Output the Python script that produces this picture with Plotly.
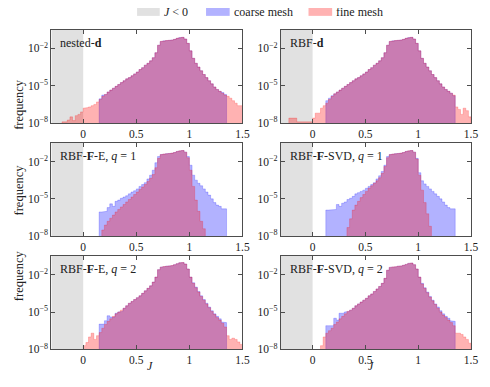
import plotly.graph_objects as go
from plotly.subplots import make_subplots

W, H = 490, 387
OFF = 8  # the page body adds an 8px margin all round; the figure fills what is left
BIN_W = 0.025  # histogram bin width in J

# log10(frequency) per bin, each series starts at the given left bin edge
nested_coarse_start = 0.15
nested_coarse = [-6.05, -5.75, -5.7, -5.5, -5.35, -5.2, -5.05, -4.9, -4.75, -4.6,
                 -4.45, -4.35, -4.2, -4.05, -3.9, -3.7, -3.55, -3.35, -3.2, -3.0,
                 -2.75, -2.35, -1.75, -1.45, -1.4, -1.38, -1.36, -1.33, -1.28, -1.2,
                 -1.14, -1.12, -1.25, -1.6, -2.2, -2.8, -3.2, -3.5, -3.8, -4.1,
                 -4.35, -4.6, -4.85, -5.1, -5.3, -5.45, -5.55, -5.7]
nested_fine_start = -0.2
nested_fine = [-7.9, -7.9, -7.75, -7.5, -7.8, -7.4, -7.3, -7.1, -6.8, -6.75, -6.7, -6.6, -6.5, -6.3,
               -6.1, -5.85, -5.7, -5.5, -5.35, -5.2, -5.05, -4.9, -4.75, -4.6,
               -4.45, -4.35, -4.2, -4.05, -3.9, -3.7, -3.55, -3.35, -3.2, -3.0,
               -2.75, -2.35, -1.75, -1.45, -1.4, -1.38, -1.36, -1.33, -1.28, -1.2,
               -1.14, -1.12, -1.25, -1.6, -2.2, -2.8, -3.2, -3.5, -3.8, -4.1,
               -4.35, -4.6, -4.85, -5.1, -5.3, -5.45, -5.6, -5.75,
               -5.85, -6.0, -6.2, -6.4, -6.6, -6.6]

rbfd_coarse_start = 0.125
rbfd_coarse = [-6.2, -6.0, -5.8, -5.65, -5.5, -5.35, -5.2, -5.05,
               -4.9, -4.75, -4.6, -4.45, -4.35, -4.2, -4.05, -3.9, -3.7, -3.55,
               -3.35, -3.2, -3.0, -2.75, -2.35, -1.75, -1.45, -1.4, -1.38, -1.36,
               -1.33, -1.28, -1.2, -1.14, -1.12, -1.25, -1.6, -2.2, -2.8, -3.2,
               -3.5, -3.8, -4.1, -4.35, -4.6, -4.85, -5.1, -5.3, -5.45, -5.6, -5.8]
rbfd_fine_start = -0.225
rbfd_fine = [-7.6, -7.6, -7.6, -7.9, -7.9, -7.9, -7.9, -7.9, -7.9, -7.6, -7.2, -7.2, -6.8, -6.6,
             -6.4, -6.1, -5.85, -5.65, -5.5, -5.35, -5.2, -5.05,
             -4.9, -4.75, -4.6, -4.45, -4.35, -4.2, -4.05, -3.9, -3.7, -3.55,
             -3.35, -3.2, -3.0, -2.75, -2.35, -1.75, -1.45, -1.4, -1.38, -1.36,
             -1.33, -1.28, -1.2, -1.14, -1.12, -1.25, -1.6, -2.2, -2.8, -3.2,
             -3.5, -3.8, -4.1, -4.35, -4.6, -4.85, -5.1, -5.3, -5.45, -5.6, -5.75,
             -6.7, -6.9, -7.3, -6.8, -7.0, -7.5]

fe1_coarse_start = 0.15
fe1_coarse = [-6.05, -6.05, -6.0, -5.7, -5.4, -5.6, -5.2, -5.1, -4.95, -4.85,
              -4.75, -4.6, -4.45, -4.35, -4.2, -4.0, -3.85, -3.7, -3.4, -3.1,
              -2.7, -2.1, -1.6, -1.45, -1.4, -1.38, -1.36, -1.33, -1.28, -1.2,
              -1.14, -1.12, -1.25, -1.6, -2.3, -3.1, -3.5, -3.75, -3.95, -4.2,
              -4.45, -4.7, -5.0, -5.3, -5.5, -5.6, -5.8, -5.8]
fe1_fine_start = 0.175
fe1_fine = [-7.5, -7.1, -6.8, -6.55, -6.3, -6.05, -5.85, -5.65, -5.45, -5.25,
            -5.05, -4.85, -4.65, -4.45, -4.25, -4.05, -3.85, -3.6, -3.35, -3.05,
            -2.5, -1.75, -1.45, -1.4, -1.38, -1.36, -1.33, -1.28, -1.2, -1.14,
            -1.12, -1.25, -1.7, -2.7, -4.0, -5.1, -6.0, -6.8, -7.4]

fsvd1_coarse_start = 0.125
fsvd1_coarse = [-5.9, -5.9, -5.9, -5.85, -5.45, -5.6, -5.35, -5.25, -5.05, -4.95,
                -4.8, -4.6, -4.5, -4.4, -4.3, -4.15, -4.0, -3.85, -3.7, -3.4,
                -3.15, -2.8, -2.3, -1.6, -1.45, -1.4, -1.38, -1.36, -1.33, -1.28,
                -1.2, -1.14, -1.12, -1.25, -1.75, -2.9, -3.55, -3.8, -4.0, -4.2,
                -4.4, -4.6, -4.8, -5.0, -5.25, -5.5, -5.7, -5.8, -5.8]
fsvd1_fine_start = 0.325
fsvd1_fine = [-7.3, -6.6, -5.9, -5.5, -5.2, -4.9, -4.65, -4.4, -4.15, -3.95,
              -3.75, -3.55, -3.3, -2.95, -2.4, -1.7, -1.45, -1.4, -1.38, -1.36,
              -1.33, -1.28, -1.2, -1.14, -1.12, -1.25, -1.8, -3.1, -4.3, -5.3,
              -6.2, -7.2]

fe2_coarse_start = 0.15
fe2_coarse = [-5.97, -5.97, -5.7, -5.3, -5.4, -5.4, -5.1, -5.0, -4.95, -4.7,
              -4.5, -4.3, -4.15, -4.0, -3.85, -3.7, -3.5, -3.3, -3.1, -2.9,
              -2.6, -2.2, -1.6, -1.4, -1.35, -1.33, -1.3, -1.27, -1.2, -1.12,
              -1.05, -1.03, -1.15, -1.55, -2.2, -2.65, -3.0, -3.35, -3.7, -4.0,
              -4.3, -4.6, -4.9, -5.15, -5.35, -5.55, -5.8, -5.85]
fe2_fine_start = 0.0
fe2_fine = [-7.7, -7.45, -7.0, -6.7, -7.2, -6.9, -6.65, -6.3, -6.0, -5.75, -5.55, -5.35, -5.15,
            -5.0, -4.85, -4.7, -4.5, -4.3, -4.15, -4.0, -3.85, -3.7, -3.5,
            -3.3, -3.1, -2.9, -2.6, -2.2, -1.6, -1.4, -1.35, -1.33, -1.3,
            -1.27, -1.2, -1.12, -1.05, -1.03, -1.15, -1.55, -2.2, -2.7, -3.05,
            -3.4, -3.75, -4.05, -4.35, -4.65, -4.95, -5.2, -5.45, -5.65, -5.9, -6.2,
            -6.9, -7.2, -7.1, -7.2, -7.4, -7.6]

fsvd2_coarse_start = 0.125
fsvd2_coarse = [-6.1, -6.1, -6.1, -5.5, -5.65, -5.1, -5.1, -5.0, -4.95, -4.85,
                -4.7, -4.5, -4.35, -4.2, -4.05, -3.9, -3.7, -3.55, -3.35, -3.15,
                -2.95, -2.7, -2.3, -1.65, -1.42, -1.38, -1.36, -1.33, -1.3, -1.25,
                -1.18, -1.1, -1.07, -1.2, -1.55, -2.2, -2.7, -3.05, -3.4, -3.75,
                -4.05, -4.35, -4.6, -4.9, -5.15, -5.35, -5.5, -5.7, -5.75]
fsvd2_fine_start = 0.075
fsvd2_fine = [-7.7, -7.0, -6.7, -6.5, -6.3, -6.0, -5.8, -5.55, -5.35, -5.15,
              -4.95, -4.85, -4.7, -4.5, -4.35, -4.2, -4.05, -3.9, -3.7, -3.55,
              -3.35, -3.15, -2.95, -2.7, -2.3, -1.65, -1.42, -1.38, -1.36, -1.33,
              -1.3, -1.25, -1.18, -1.1, -1.07, -1.2, -1.55, -2.2, -2.75, -3.1,
              -3.45, -3.8, -4.1, -4.4, -4.7, -5.0, -5.25, -5.45, -5.65, -5.85, -6.1,
              -6.7, -6.7, -6.8, -7.0, -7.2, -7.5]

panel_labels = ["nested-<b>d</b>", "RBF-<b>d</b>",
                "RBF-<b>F</b>-E, <i>q</i> = 1", "RBF-<b>F</b>-SVD, <i>q</i> = 1",
                "RBF-<b>F</b>-E, <i>q</i> = 2", "RBF-<b>F</b>-SVD, <i>q</i> = 2"]
x_ticks = [0, 0.5, 1, 1.5]
y_ticks = [1e-8, 1e-5, 1e-2]
y_ticktext = ["10<sup>\u22128</sup>", "10<sup>\u22125</sup>", "10<sup>\u22122</sup>"]
legend_names = ["<i>J</i> < 0", "coarse mesh", "fine mesh"]

panels = [
    (nested_coarse_start, nested_coarse, nested_fine_start, nested_fine),
    (rbfd_coarse_start, rbfd_coarse, rbfd_fine_start, rbfd_fine),
    (fe1_coarse_start, fe1_coarse, fe1_fine_start, fe1_fine),
    (fsvd1_coarse_start, fsvd1_coarse, fsvd1_fine_start, fsvd1_fine),
    (fe2_coarse_start, fe2_coarse, fe2_fine_start, fe2_fine),
    (fsvd2_coarse_start, fsvd2_coarse, fsvd2_fine_start, fsvd2_fine),
]

FONT = "Liberation Serif"
GRAY = "#e1e1e1"
BLUE_FILL = "rgba(0,0,255,0.3)"
RED_FILL = "rgba(255,0,0,0.3)"
AXIS = "#4d4d4d"
BASE = 1e-10  # below the visible range, polygon floor

# pixel layout of the panels (page pixels)
col_px = [(52, 246), (285, 478)]
row_px = [(30, 125), (145, 240), (260, 355)]

FW, FH = W - 2 * OFF, H - 2 * OFF


def px_x(p):
    return (p - OFF) / FW


def px_y(p):
    return 1 - (p - OFF) / FH


def step_outline(start, logs):
    xs, ys = [start], [BASE]
    for k, v in enumerate(logs):
        x0 = start + k * BIN_W
        xs += [x0, x0 + BIN_W]
        ys += [10 ** v, 10 ** v]
    xs.append(start + len(logs) * BIN_W)
    ys.append(BASE)
    return xs, ys


fig = make_subplots(rows=3, cols=2)

for i, (c_start, c_vals, f_start, f_vals) in enumerate(panels):
    row, col = i // 2 + 1, i % 2 + 1
    for start, vals, fill in [(c_start, c_vals, BLUE_FILL), (f_start, f_vals, RED_FILL)]:
        xs, ys = step_outline(start, vals)
        fig.add_trace(go.Scatter(
            x=xs, y=ys, mode="lines", fill="toself", fillcolor=fill,
            line=dict(color=fill, width=0.7), hoverinfo="skip", showlegend=False
        ), row=row, col=col)

    n = i + 1
    xa = "xaxis" if n == 1 else "xaxis%d" % n
    ya = "yaxis" if n == 1 else "yaxis%d" % n
    cx, ry = col_px[col - 1], row_px[row - 1]
    fig.layout[xa].update(
        domain=[px_x(cx[0]), px_x(cx[1])], range=[-0.3, 1.5],
        tickvals=x_ticks, ticks="inside", ticklen=4, tickcolor=AXIS,
        showline=True, linecolor=AXIS, linewidth=1, mirror="ticks",
        showgrid=False, zeroline=False, tickfont=dict(size=11.5)
    )
    fig.layout[ya].update(
        domain=[px_y(ry[1]), px_y(ry[0])], type="log", range=[-8, -0.5],
        tickvals=y_ticks, ticktext=y_ticktext, ticks="inside", ticklen=4, tickcolor=AXIS,
        showline=True, linecolor=AXIS, linewidth=1, mirror="ticks",
        showgrid=False, zeroline=False, tickfont=dict(size=11.5)
    )
    xref = "x" if n == 1 else "x%d" % n
    yref = "y" if n == 1 else "y%d" % n
    fig.add_shape(type="rect", xref=xref, yref=yref + " domain", x0=-0.3, x1=0, y0=0, y1=1,
                  fillcolor=GRAY, line_width=0, layer="below")
    fig.add_annotation(text=panel_labels[i], xref="paper", yref="paper",
                       x=px_x(cx[0] + 7), y=px_y(ry[0] + 13.5), xanchor="left", yanchor="middle",
                       showarrow=False, font=dict(size=12))

# y titles and x titles
for ry in row_px:
    fig.add_annotation(text="frequency", xref="paper", yref="paper", x=px_x(10),
                       y=px_y((ry[0] + ry[1]) / 2), textangle=-90, showarrow=False,
                       font=dict(size=12.5))
for cx in col_px:
    fig.add_annotation(text="<i>J</i>", xref="paper", yref="paper", x=px_x((cx[0] + cx[1]) / 2 - 1),
                       y=px_y(380), showarrow=False, font=dict(size=12), borderpad=0)

# legend drawn by hand: wide swatches like the original
legend_boxes = [(139, 162, GRAY), (209, 233, BLUE_FILL), (313, 337, RED_FILL)]
for (x0, x1, color), name in zip(legend_boxes, legend_names):
    fig.add_shape(type="rect", xref="paper", yref="paper", x0=px_x(x0), x1=px_x(x1),
                  y0=px_y(16), y1=1, fillcolor=color, line_width=0)
    fig.add_annotation(text=name, xref="paper", yref="paper", x=px_x(x1 + 3), y=px_y(12.5),
                       xanchor="left", yanchor="middle", showarrow=False, font=dict(size=12),
                       borderpad=0)

fig.update_layout(
    width=FW, height=FH, margin=dict(l=0, r=0, t=0, b=0),
    paper_bgcolor="white", plot_bgcolor="white",
    font=dict(family=FONT, size=11, color="#222"),
    showlegend=False,
)

fig.write_html("out.html")
